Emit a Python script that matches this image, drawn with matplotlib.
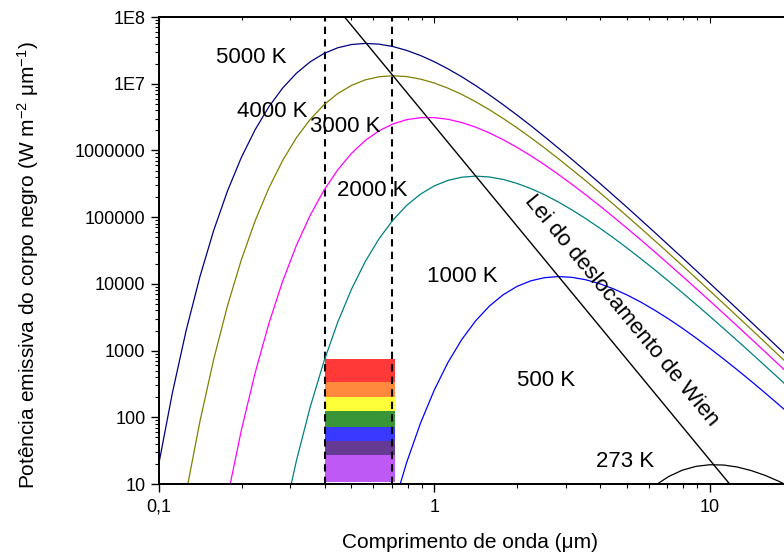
import numpy as np
import matplotlib.pyplot as plt
from matplotlib import ticker

plt.rcParams['font.family'] = ['Liberation Sans', 'DejaVu Sans']
plt.rcParams['mathtext.fontset'] = 'custom'
plt.rcParams['mathtext.rm'] = 'Liberation Sans'
plt.rcParams['mathtext.default'] = 'regular'

# wavelength grid (um)
wavelength = [0.1, 0.1122, 0.1259, 0.1413, 0.1585, 0.1778, 0.1995, 0.2239, 0.2512, 0.2818,
              0.3162, 0.3548, 0.3981, 0.4467, 0.5012, 0.5623, 0.631, 0.7079, 0.7943, 0.8913,
              1.0, 1.122, 1.259, 1.413, 1.585, 1.778, 1.995, 2.239, 2.512, 2.818,
              3.162, 3.548, 3.981, 4.467, 5.012, 5.623, 6.31, 7.079, 7.943, 8.913,
              10.0, 11.22, 12.59, 14.13, 15.85, 17.78, 19.95]

# emissive power (W m-2 um-1) per temperature, None = below the axis
e_5000 = [19.3, 232, 2010, 12900, 63600, 247000, 780000, 2.04e6, 4.51e6, 8.60e6,
          1.436e7, 2.13e7, 2.84e7, 3.46e7, 3.87e7, 4.02e7, 3.92e7, 3.61e7, 3.16e7, 2.65e7,
          2.14e7, 1.67e7, 1.27e7, 9.40e6, 6.82e6, 4.86e6, 3.41e6, 2.36e6, 1.61e6, 1.09e6,
          7.34e5, 4.89e5, 3.24e5, 2.13e5, 1.40e5, 9.10e4, 5.91e4, 3.82e4, 2.47e4, 1.59e4,
          1.02e4, 6540, 4190, 2670, 1710, 1090, 692]
e_4000 = [None, None, 7.43, 87.7, 743, 4700, 22800, 87600, 273000, 705000,
          1.55e6, 2.92e6, 4.84e6, 7.13e6, 9.45e6, 1.143e7, 1.273e7, 1.318e7, 1.280e7, 1.174e7,
          1.025e7, 8.57e6, 6.91e6, 5.38e6, 4.08e6, 3.02e6, 2.19e6, 1.558e6, 1.092e6, 7.55e5,
          5.16e5, 3.50e5, 2.35e5, 1.563e5, 1.034e5, 6.80e4, 4.45e4, 2.90e4, 1.884e4, 1.220e4,
          7870, 5070, 3250, 2085, 1334, 852, 545]
e_3000 = [None, None, None, None, None, 6.35, 63.2, 461, 2540, 10900,
          37700, 106500, 253000, 513000, 906000, 1.413e6, 1.972e6, 2.495e6, 2.892e6, 3.10e6,
          3.105e6, 2.93e6, 2.62e6, 2.236e6, 1.833e6, 1.452e6, 1.115e6, 8.35e5, 6.12e5, 4.39e5,
          3.10e5, 2.16e5, 1.484e5, 1.010e5, 6.80e4, 4.55e4, 3.02e4, 1.99e4, 1.306e4, 8530,
          5550, 3600, 2325, 1497, 963, 618, 396]
e_2000 = [None, None, None, None, None, None, None, None, None, 2.62,
          22.3, 142, 691, 2670, 8340, 21700, 47600, 90200, 1.50e5, 2.21e5,
          2.94e5, 3.56e5, 3.97e5, 4.12e5, 4.00e5, 3.68e5, 3.21e5, 2.69e5, 2.17e5, 1.692e5,
          1.283e5, 9.50e4, 6.89e4, 4.91e4, 3.44e4, 2.38e4, 1.627e4, 1.102e4, 7400, 4925,
          3260, 2145, 1404, 915, 594, 385, 248]
e_1000 = [None] * 17 + [4.28, 21.0, 81.3,
          255, 665, 1466, 2786, 4640, 6860, 9140, 11100, 12390, 12870,
          12530, 11520, 10070, 8440, 6810, 5320, 4030, 2990, 2170, 1544,
          1083, 749, 513, 347, 233, 155, 103]
e_273 = [None] * 34 + [3.58, 6.18, 9.44, 12.9, 16.1, 18.4,
         19.45, 19.25, 17.97, 15.9, 13.5, 11.0, 8.66]

curves = [e_5000, e_4000, e_3000, e_2000, e_1000, e_273]
curve_colors = ['#000080', '#808000', '#ff00ff', '#008080', '#0000ff', '#000000']

# Wien displacement line
wien_wavelength = [0.473, 11.8]
wien_power = [1e8, 10]

# visible band
visible_limits = [0.4, 0.7]
band_x = [0.4, 0.72]
band_edges = [748, 338, 201, 124, 71.6, 44.2, 27.2, 10.7]
band_colors = ['#ff2d2d', '#ff8433', '#ffff2e', '#2d8f2d', '#2e2eff', '#5e2e8c', '#bb50f5']

# annotations
temp_labels = ['5000 K', '4000 K', '3000 K', '2000 K', '1000 K', '500 K', '273 K']
label_x = [0.1615, 0.192, 0.354, 0.443, 0.939, 2.00, 3.85]
label_y = [2.44e7, 3.82e6, 2.25e6, 2.47e5, 1.28e4, 350, 21.6]

yticks = [10, 100, 1000, 10000, 100000, 1000000, 1e7, 1e8]
ytick_labels = ['10', '100', '1000', '10000', '100000', '1000000', '1E7', '1E8']
xticks = [0.1, 1, 10]
xtick_labels = ['0,1', '1', '10']

fig = plt.figure(figsize=(7.84, 5.58), dpi=100)
ax = fig.add_axes([0.2023, 0.1326, 0.8089, 0.8369])
ax.set_xscale('log')
ax.set_yscale('log')
ax.set_xlim(0.1, 20)
ax.set_ylim(10, 1e8)

lam = np.array(wavelength)
for vals, c in zip(curves, curve_colors):
    ax.plot(lam, np.array(vals, dtype=float), color=c, lw=0.9, zorder=3)

ax.plot(wien_wavelength, wien_power, color='black', lw=1.0, zorder=3)

for i, c in enumerate(band_colors):
    ax.fill_between(band_x, band_edges[i + 1], band_edges[i], color=c, lw=0,
                    alpha=0.95, zorder=1)

for xv in visible_limits:
    ax.axvline(xv, color='black', lw=1.5, linestyle=(0, (3.5, 2.5)), zorder=2)

for t, x, y in zip(temp_labels, label_x, label_y):
    ax.text(x, y, t, fontsize=16, ha='left', va='center', zorder=4)

ax.text(4.76, 3930, 'Lei do deslocamento de Wien', fontsize=16, rotation=-50.5,
        rotation_mode='anchor', ha='center', va='center', zorder=4)

ax.set_yticks(yticks)
ax.set_yticklabels(ytick_labels)
ax.set_xticks(xticks)
ax.set_xticklabels(xtick_labels)
ax.yaxis.set_minor_locator(ticker.LogLocator(base=10, subs=np.arange(2, 10), numticks=20))
ax.xaxis.set_minor_locator(ticker.LogLocator(base=10, subs=np.arange(2, 10), numticks=20))
ax.yaxis.set_minor_formatter(ticker.NullFormatter())
ax.xaxis.set_minor_formatter(ticker.NullFormatter())
ax.tick_params(which='major', direction='out', length=5.5, width=1, labelsize=13, pad=4)
ax.tick_params(which='minor', direction='out', length=3, width=0.8)
ax.tick_params(axis='x', which='major', pad=5)

top = ax.twiny()
top.set_xscale('log')
top.set_xlim(ax.get_xlim())
top.set_xticks(xticks)
top.xaxis.set_minor_locator(ticker.LogLocator(base=10, subs=np.arange(2, 10), numticks=20))
top.tick_params(which='both', direction='in', labeltop=False, width=0.8)
top.tick_params(which='major', length=4)
top.tick_params(which='minor', length=2.5)

for a in (ax, top):
    for s in a.spines.values():
        s.set_linewidth(1.3)

ax.set_xlabel('Comprimento de onda (μm)', fontsize=15)
ax.set_ylabel('Potência emissiva do corpo negro (W m$^{-2}$ μm$^{-1}$)', fontsize=15)
ax.xaxis.set_label_coords(0.491, -0.105)
ax.yaxis.set_label_coords(-0.186, 0.469)

fig.savefig('out.png', dpi=100)
